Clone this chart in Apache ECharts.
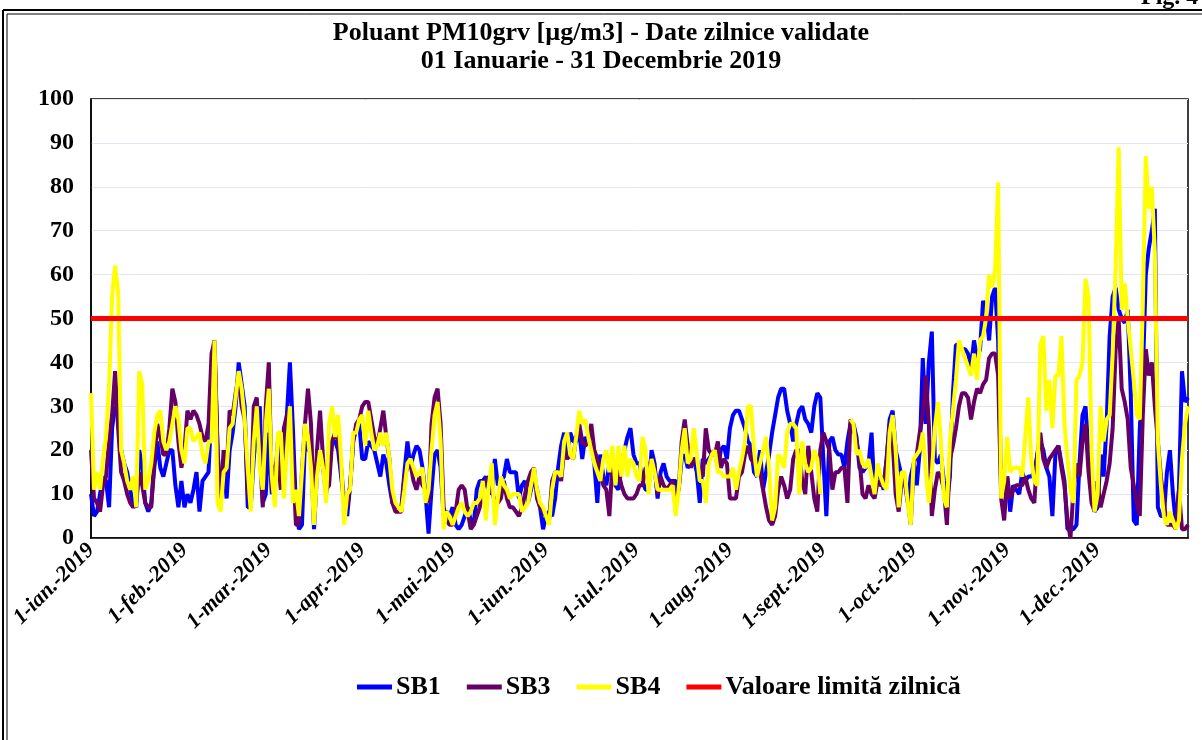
<!DOCTYPE html>
<html>
<head>
<meta charset="utf-8">
<script src="https://cdn.jsdelivr.net/npm/echarts@6/dist/echarts.min.js"></script>
<style>
  html, body { margin: 0; padding: 0; background: #fff; }
  #main { width: 1202px; height: 740px; }
</style>
</head>
<body>
<div id="main"></div>
<script>
// month names / lengths for the daily category axis
var monthNames = ['ian.', 'feb.', 'mar.', 'apr.', 'mai', 'iun.', 'iul.', 'aug.', 'sept.', 'oct.', 'nov.', 'dec.'];
var monthDays = [31, 28, 31, 30, 31, 30, 31, 31, 30, 31, 30, 31];

// daily values, 1 Jan - 31 Dec 2019
var sb1 = [
  10,5,6,10,14,13,7,25,30,28,20,17,15,11,8,7,20,16,8,6,8,16,22,16,14,17,20,20,12,7,13,7,10,
  8,11,15,6,13,14,15,30,43,20,8,18,9,20,24,30,40,35,30,7,7,18,26,30,8,10,24,10,12,22,18,12,28,40,25,7,2,3,22,20,
  20,2,15,20,16,10,15,22,22,20,14,8,5,12,22,25,26,18,18,22,21,20,17,14,19,17,12,8,7,7,7,15,22,16,19,21,
  20,16,10,1,11,19,20,16,5,6,5,7,3,2,3,5,7,4,3,11,13,13,14,11,10,18,12,13,14,18,15,15,15,9,12,13,
  8,11,14,11,7,2,5,6,5,9,16,21,24,18,24,22,22,24,18,23,22,21,17,8,19,14,12,17,14,12,11,16,20,23,25,19,17,17,
  13,11,11,20,17,9,15,17,14,13,13,13,11,18,19,16,17,18,15,8,18,17,18,19,20,16,20,21,18,25,28,29,29,27,25,22,
  21,15,14,20,11,15,19,24,28,32,34,34,29,26,22,26,29,30,27,26,24,30,33,32,18,5,22,23,20,19,19,16,22,26,26,23,
  16,15,16,17,24,10,15,14,11,18,27,29,20,17,14,13,8,14,17,12,20,41,26,40,47,18,17,19,13,8,14,33,44,44,43,43,
  42,39,45,41,43,54,52,45,55,57,45,12,10,14,6,12,11,10,15,13,14,14,15,19,22,20,16,14,5,19,21,17,13,2,2,2,3,
  17,28,30,19,13,6,7,19,14,26,46,55,57,52,50,49,52,33,4,3,25,37,60,66,70,75,7,5,5,15,20,10,3,11,38,31,32
];
var sb3 = [
  20,9,8,6,12,14,22,28,38,25,15,13,10,8,7,8,15,12,8,7,7,18,26,23,19,19,25,34,31,22,16,20,29,
  27,29,28,26,23,22,26,42,45,20,7,20,15,29,28,33,37,30,27,11,7,30,32,20,7,30,40,11,16,18,11,25,28,29,18,3,3,15,26,34,
  26,5,20,29,18,11,12,22,24,22,16,8,7,12,22,26,27,30,31,31,27,23,21,25,29,23,18,8,6,6,6,14,16,17,13,11,
  14,12,11,8,26,32,34,26,7,4,3,3,6,11,12,11,6,2,3,5,7,11,13,14,11,8,8,9,13,9,7,7,6,5,7,10,
  13,15,16,9,7,6,5,4,13,15,15,13,20,18,19,18,23,26,22,21,22,26,20,18,15,12,11,5,17,16,15,12,10,9,9,9,10,12,
  12,16,16,18,16,10,14,12,11,12,13,9,11,22,27,21,16,18,18,15,14,25,20,19,19,22,16,18,17,9,9,9,14,15,19,21,
  18,17,17,15,11,7,4,3,5,11,14,12,9,11,18,20,20,13,10,21,15,9,6,20,24,22,20,11,15,15,16,16,8,27,25,22,
  18,10,9,12,10,9,13,12,12,18,26,22,10,6,13,13,9,3,17,19,24,28,37,26,5,11,15,14,11,3,18,21,25,30,33,33,
  32,27,31,34,33,35,36,41,42,42,37,9,4,14,9,11,12,12,12,14,11,9,8,19,24,18,16,18,19,20,21,16,12,4,0,11,17,
  14,22,26,15,8,6,13,7,10,13,17,25,43,50,34,31,27,16,12,8,5,28,43,37,40,30,22,14,8,3,3,3,2,11,2,2,3
];
var sb4 = [
  33,11,15,11,18,23,35,55,62,56,20,17,13,11,14,7,38,35,11,13,17,24,28,29,22,20,22,26,30,27,20,17,25,
  25,22,23,24,19,17,22,22,45,8,6,15,16,25,26,32,38,34,27,16,6,22,30,16,11,26,34,14,7,24,24,9,20,30,8,11,5,15,26,23,
  16,3,14,20,16,8,26,30,23,28,18,3,10,11,24,24,27,28,21,29,24,20,21,24,21,24,18,11,8,7,6,11,17,18,16,14,
  15,16,8,11,20,28,31,22,2,6,5,3,5,7,8,6,5,6,8,8,9,13,4,12,17,3,9,14,12,11,9,10,10,10,6,7,
  8,12,16,11,8,7,5,3,11,15,15,14,22,24,19,18,23,29,26,27,23,20,17,15,13,18,20,15,21,12,21,14,21,14,18,17,14,13,
  23,20,10,18,15,11,11,11,11,11,12,5,11,20,25,17,18,25,19,13,13,8,17,19,20,15,15,14,14,14,16,11,15,18,22,30,
  30,20,14,17,20,23,16,4,7,19,18,16,24,26,26,25,10,22,17,15,16,20,18,10,null,null,null,null,null,null,null,null,null,27,26,19,
  20,17,16,18,14,10,17,14,12,11,24,28,20,7,15,15,8,3,18,19,20,24,15,8,15,25,31,22,9,7,22,29,36,45,43,41,
  39,37,42,36,45,46,50,60,57,61,81,9,13,23,15,16,16,16,14,23,32,18,13,12,44,46,29,36,25,37,37,46,26,18,11,8,36,
  37,40,59,55,20,6,10,30,22,27,28,42,62,89,52,58,50,43,36,28,27,53,87,75,80,65,22,12,5,3,6,4,2,4,18,26,30
];
var limitValue = 50;

var days = [];
for (var m = 0; m < 12; m++) {
    for (var d = 1; d <= monthDays[m]; d++) {
        days.push(d + '-' + monthNames[m] + '-2019');
    }
}
var limit = days.map(function () { return limitValue; });

var font = 'Liberation Serif';
var myChart = echarts.init(document.getElementById('main'));

option = {
    backgroundColor: '#fff',
    animation: false,
    title: {
        text: 'Poluant PM10grv [µg/m3] - Date zilnice validate\n01 Ianuarie - 31 Decembrie 2019',
        left: 'center',
        top: 14,
        textStyle: {
            fontFamily: font,
            fontWeight: 'bold',
            fontSize: 26,
            lineHeight: 28,
            color: '#000'
        }
    },
    graphic: [
        // double frame (top and left)
        {type: 'line', shape: {x1: 3, y1: 10, x2: 1202, y2: 10}, style: {stroke: '#000', lineWidth: 2}},
        {type: 'line', shape: {x1: 7, y1: 14, x2: 1202, y2: 14}, style: {stroke: '#000', lineWidth: 1}},
        {type: 'line', shape: {x1: 3, y1: 10, x2: 3, y2: 740}, style: {stroke: '#000', lineWidth: 2}},
        {type: 'line', shape: {x1: 7, y1: 14, x2: 7, y2: 740}, style: {stroke: '#000', lineWidth: 1}},
        {type: 'text', left: 1141, top: -14, style: {text: 'Fig. 4', font: 'bold 24px "Liberation Serif"', fill: '#000'}}
    ],
    legend: {
        top: 674,
        left: 357,
        padding: 0,
        icon: 'rect',
        itemWidth: 35,
        itemHeight: 5,
        itemGap: 26,
        textStyle: {
            fontFamily: font,
            fontWeight: 'bold',
            fontSize: 26,
            color: '#000',
            padding: [0, 0, 0, -1]
        },
        data: ['SB1', 'SB3', 'SB4', 'Valoare limită zilnică']
    },
    grid: {
        left: 91,
        right: 14,
        top: 99,
        bottom: 202,
        show: true,
        borderColor: '#000',
        borderWidth: 1.5
    },
    xAxis: {
        type: 'category',
        data: days,
        boundaryGap: false,
        axisLine: {lineStyle: {color: '#000', width: 1.5}},
        axisTick: {show: false},
        axisLabel: {
            interval: function (index, value) {
                return value.split('-')[0] === '1';
            },
            rotate: 45,
            margin: 9,
            fontFamily: font,
            fontWeight: 'bold',
            fontStyle: 'italic',
            fontSize: 22,
            color: '#000'
        }
    },
    yAxis: {
        type: 'value',
        min: 0,
        max: 100,
        interval: 10,
        axisLine: {show: true, lineStyle: {color: '#000', width: 1.5}},
        axisTick: {show: false},
        splitLine: {lineStyle: {color: '#e6e6f0', width: 1}},
        axisLabel: {
            margin: 17,
            fontFamily: font,
            fontWeight: 'bold',
            fontSize: 24,
            color: '#000'
        }
    },
    series: [
        {name: 'SB1', type: 'line', data: sb1, symbol: 'none', lineStyle: {width: 4, color: '#0000ff'}, itemStyle: {color: '#0000ff'}},
        {name: 'SB3', type: 'line', data: sb3, symbol: 'none', lineStyle: {width: 4, color: '#660066'}, itemStyle: {color: '#660066'}},
        {name: 'SB4', type: 'line', data: sb4, symbol: 'none', lineStyle: {width: 4, color: '#ffff00'}, itemStyle: {color: '#ffff00'}},
        {name: 'Valoare limită zilnică', type: 'line', data: limit, symbol: 'none', lineStyle: {width: 5, color: '#ff0000'}, itemStyle: {color: '#ff0000'}}
    ]
};

myChart.setOption(option);
</script>
</body>
</html>
